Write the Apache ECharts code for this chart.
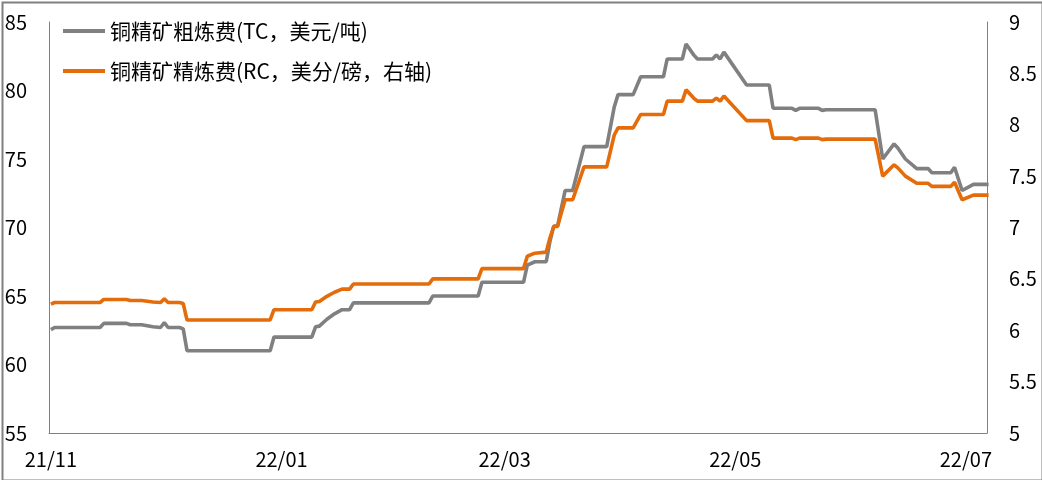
<!DOCTYPE html>
<html>
<head>
<meta charset="utf-8">
<script src="https://cdn.jsdelivr.net/npm/echarts@6/dist/echarts.min.js"></script>
<style>
html,body{margin:0;padding:0;background:#fff;}
#chart{width:1042px;height:480px;}
</style>
</head>
<body>
<div id="chart"></div>
<script>
const seriesNames = ['铜精矿粗炼费(TC，美元/吨)', '铜精矿精炼费(RC，美分/磅，右轴)'];
const dates = [
 '2021-11-01','2021-11-02','2021-11-14','2021-11-15','2021-11-21','2021-11-22','2021-11-25','2021-11-28','2021-11-30',
 '2021-12-01','2021-12-02','2021-12-05','2021-12-06','2021-12-07','2021-12-29','2021-12-30',
 '2022-01-09','2022-01-10','2022-01-11','2022-01-13','2022-01-15','2022-01-17','2022-01-19','2022-01-20',
 '2022-02-09','2022-02-10','2022-02-22','2022-02-23',
 '2022-03-06','2022-03-07','2022-03-09','2022-03-12','2022-03-13','2022-03-14','2022-03-15','2022-03-16','2022-03-17','2022-03-19','2022-03-22','2022-03-28','2022-03-30','2022-03-31',
 '2022-04-04','2022-04-06','2022-04-12','2022-04-13','2022-04-17','2022-04-18','2022-04-20','2022-04-21','2022-04-25','2022-04-26','2022-04-27','2022-04-28',
 '2022-05-04','2022-05-10','2022-05-11','2022-05-16','2022-05-17','2022-05-18','2022-05-23','2022-05-24','2022-05-25',
 '2022-06-07','2022-06-09','2022-06-12','2022-06-13','2022-06-15','2022-06-18','2022-06-21','2022-06-22','2022-06-27','2022-06-28','2022-06-30',
 '2022-07-03','2022-07-07'
];
const tcValues = [
 62.55,62.7,62.7,63.0,63.0,62.9,62.9,62.75,62.7,
 63.05,62.7,62.7,62.6,61.0,61.0,62.0,
 62.0,62.75,62.8,63.3,63.7,64.0,64.0,64.5,
 64.5,65.0,65.0,66.0,
 66.0,67.25,67.5,67.5,69.0,70.1,70.1,71.4,72.7,72.7,75.9,75.9,78.8,79.7,
 79.7,81.0,81.0,82.3,82.3,83.4,82.6,82.3,82.3,82.6,82.3,82.8,
 80.4,80.4,78.7,78.7,78.55,78.7,78.7,78.55,78.6,
 78.6,75.0,76.1,75.8,75.0,74.3,74.3,74.0,74.0,74.4,72.7,
 73.15,73.15
];
const rcValues = [
 6.255,6.27,6.27,6.30,6.30,6.29,6.29,6.275,6.27,
 6.305,6.27,6.27,6.26,6.10,6.10,6.20,
 6.20,6.275,6.28,6.33,6.37,6.40,6.40,6.45,
 6.45,6.50,6.50,6.60,
 6.60,6.72,6.75,6.76,6.90,7.01,7.01,7.14,7.27,7.27,7.59,7.59,7.90,7.97,
 7.97,8.10,8.10,8.23,8.23,8.34,8.26,8.23,8.23,8.26,8.23,8.28,
 8.04,8.04,7.87,7.87,7.855,7.87,7.87,7.855,7.86,
 7.86,7.50,7.61,7.58,7.50,7.43,7.43,7.40,7.40,7.44,7.27,
 7.315,7.315
];
const xLabelDates = ['2021-11-01','2022-01-01','2022-03-01','2022-05-01','2022-07-01'];

function toTs(s){ const p = s.split('-').map(Number); return new Date(p[0], p[1]-1, p[2]).getTime(); }
const font = '"Noto Sans CJK SC", "Noto Sans", sans-serif';

const chart = echarts.init(document.getElementById('chart'));
chart.setOption({
  animation: false,
  backgroundColor: '#ffffff',
  textStyle: { fontFamily: font },
  graphic: [{
    type: 'rect', left: 0, top: 0, silent: true, z: 100,
    shape: { x: 1, y: 1, width: 1040, height: 478 },
    style: { fill: 'none', stroke: '#808080', lineWidth: 2 }
  }],
  grid: { left: 49, right: 55, top: 22, bottom: 47, containLabel: false },
  legend: {
    orient: 'vertical', left: 63, top: 18, padding: 0,
    icon: 'rect',
    itemWidth: 42, itemHeight: 4, itemGap: 14,
    textStyle: { fontSize: 21, color: '#000', fontFamily: font, lineHeight: 26 },
    data: seriesNames
  },
  xAxis: {
    type: 'value',
    min: new Date(2021, 9, 31, 12).getTime(),
    max: new Date(2022, 6, 6, 14).getTime(),
    axisLine: { lineStyle: { color: '#808080', width: 1 } },
    axisTick: { show: false },
    splitLine: { show: false },
    axisLabel: {
      customValues: xLabelDates.map(toTs),
      fontSize: 20, color: '#000', margin: 16, fontFamily: font,
      formatter: function (v) {
        const d = new Date(v);
        return String(d.getFullYear()).slice(2) + '/' + String(d.getMonth() + 1).padStart(2, '0');
      }
    }
  },
  yAxis: [{
    type: 'value', min: 55, max: 85, interval: 5, position: 'left',
    axisLine: { show: true, lineStyle: { color: '#808080', width: 1 } },
    axisTick: { show: false },
    splitLine: { show: false },
    axisLabel: { fontSize: 20, color: '#000', margin: 22, fontFamily: font }
  }, {
    type: 'value', min: 5, max: 9, interval: 0.5, position: 'right',
    axisLine: { show: true, lineStyle: { color: '#808080', width: 1 } },
    axisTick: { show: false },
    splitLine: { show: false },
    axisLabel: { fontSize: 20, color: '#000', margin: 22, fontFamily: font }
  }],
  series: [{
    name: seriesNames[0], type: 'line', yAxisIndex: 0,
    symbol: 'none', showSymbol: false,
    lineStyle: { color: '#808080', width: 3.6 },
    itemStyle: { color: '#808080' },
    data: dates.map((d, i) => [toTs(d), tcValues[i]])
  }, {
    name: seriesNames[1], type: 'line', yAxisIndex: 1,
    symbol: 'none', showSymbol: false,
    lineStyle: { color: '#E46C0A', width: 3.6 },
    itemStyle: { color: '#E46C0A' },
    data: dates.map((d, i) => [toTs(d), rcValues[i]])
  }]
});
</script>
</body>
</html>
